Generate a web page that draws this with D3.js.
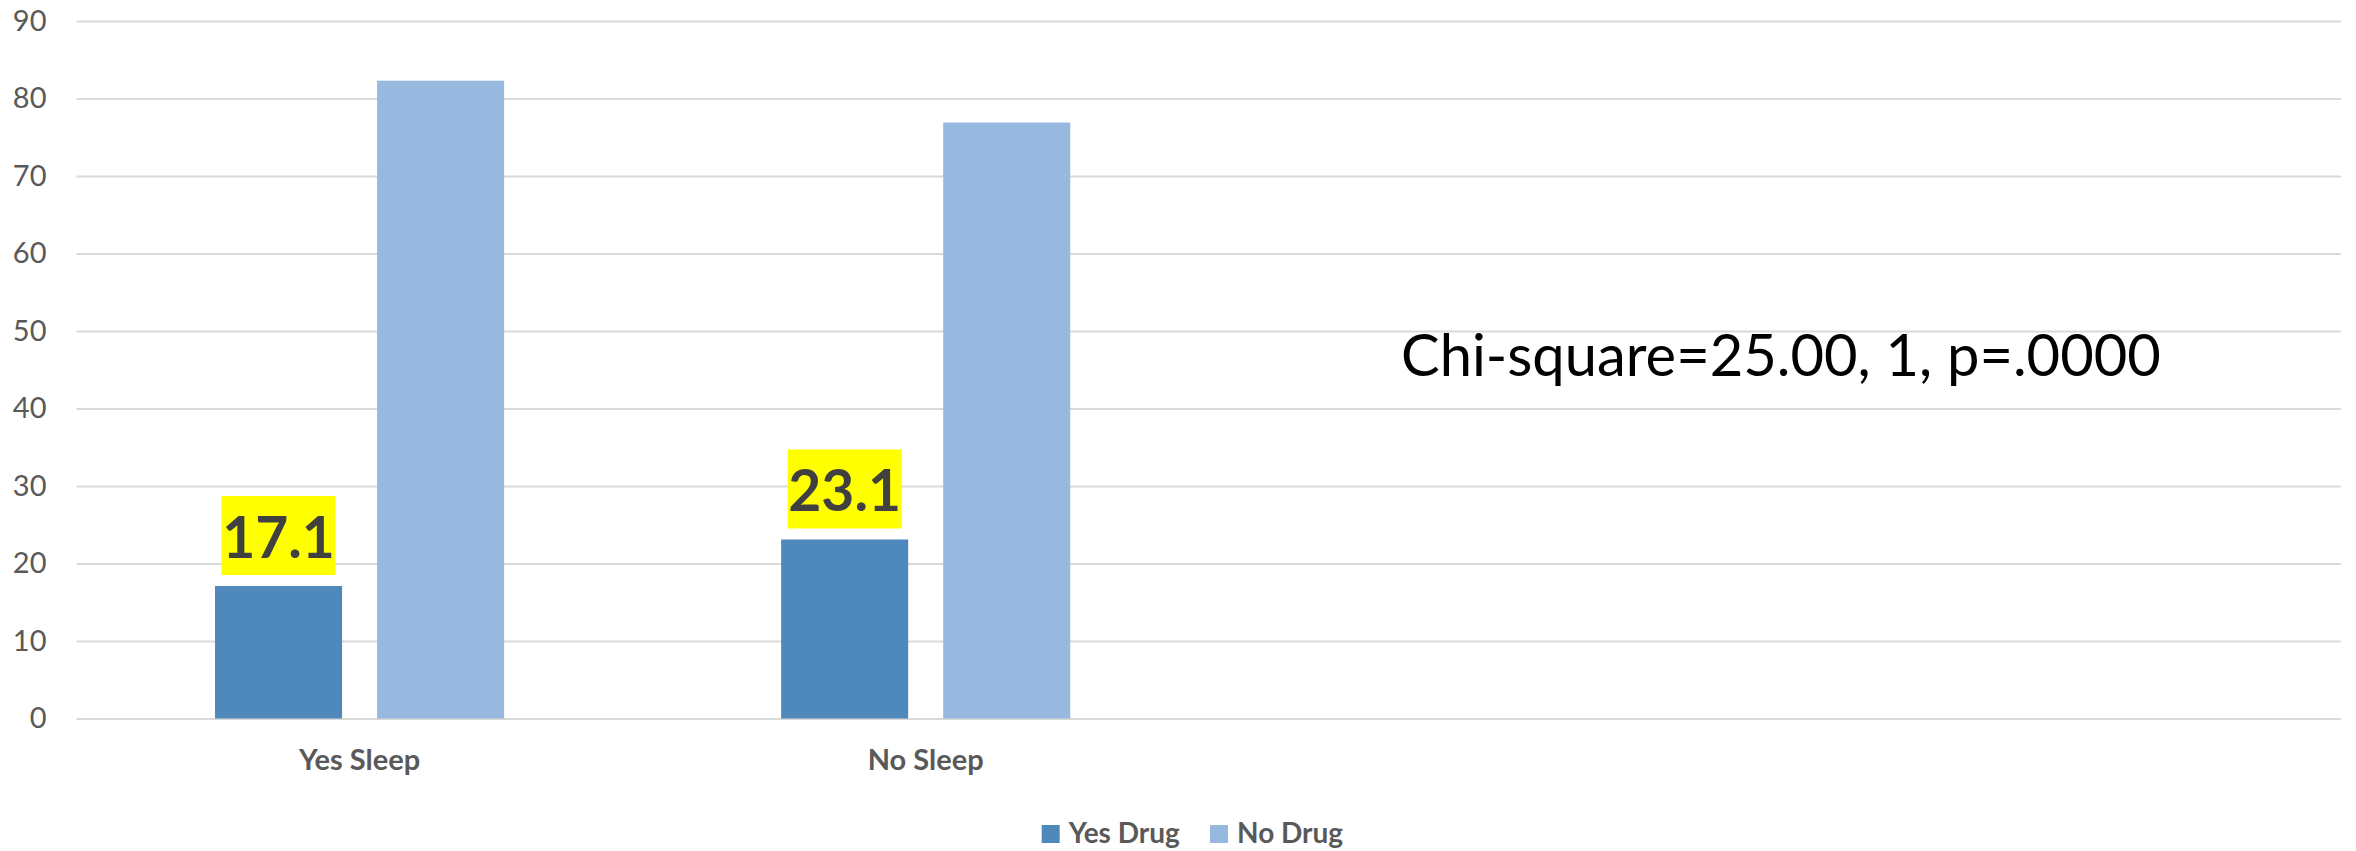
<!DOCTYPE html>
<html>
<head>
<meta charset="utf-8">
<script src="https://cdn.jsdelivr.net/npm/d3@7"></script>
<style>
  body { margin: 0; background: #fff; }
  svg { display: block; font-family: Lato, "Open Sans", sans-serif; }
</style>
</head>
<body>
<svg width="2356" height="851"></svg>
<script>
// chart data
const categories = ["Yes Sleep", "No Sleep", "", ""];
const seriesNames = ["Yes Drug", "No Drug"];
const yesDrug = [17.1, 23.1, null, null];
const noDrug = [82.3, 76.9, null, null];
const yTicks = [0, 10, 20, 30, 40, 50, 60, 70, 80, 90];
const note = "Chi-square=25.00, 1, p=.0000";

const colors = ["#4f89bc", "#98b9df"];
const svg = d3.select("svg");

// plot area
const plotLeft = 76.5, plotRight = 2341, plotTop = 21, plotBottom = 718.5;

const x = d3.scaleBand()
  .domain(d3.range(categories.length))
  .range([plotLeft, plotRight]);

const x1 = d3.scaleBand()
  .domain(seriesNames)
  .range([138.5, x.bandwidth() - 138.5])
  .paddingInner(0.216);

const y = d3.scaleLinear().domain([0, 90]).range([plotBottom, plotTop]);

// gridlines + y labels
const yAxis = svg.append("g")
  .attr("transform", `translate(${plotLeft},0)`)
  .call(d3.axisLeft(y).tickValues(yTicks).tickSize(-(plotRight - plotLeft)).tickPadding(30));
yAxis.select(".domain").remove();
yAxis.selectAll("line").attr("stroke", "#d9d9d9").attr("stroke-width", 2);
yAxis.selectAll("text")
  .attr("fill", "#595959")
  .style("font-size", "29px")
  .style("font-family", "Lato, sans-serif");

// x labels
const xAxis = svg.append("g")
  .attr("transform", `translate(0,${plotBottom})`)
  .call(d3.axisBottom(x).tickFormat(i => categories[i]).tickSize(0).tickPadding(31));
xAxis.select(".domain").remove();
xAxis.selectAll("text")
  .attr("fill", "#595959")
  .style("font-size", "29px")
  .style("font-weight", "bold")
  .style("font-family", "Lato, sans-serif");

// bars
const seriesValues = [yesDrug, noDrug];
seriesNames.forEach((name, s) => {
  const data = seriesValues[s]
    .map((v, i) => ({ i, v }))
    .filter(d => d.v != null);

  svg.append("g")
    .selectAll("rect")
    .data(data)
    .join("rect")
    .attr("x", d => x(d.i) + x1(name))
    .attr("y", d => y(d.v))
    .attr("width", x1.bandwidth())
    .attr("height", d => y(0) - y(d.v))
    .attr("fill", colors[s]);
});

// data labels on the Yes Drug bars, yellow highlight
const labelData = yesDrug.map((v, i) => ({ i, v })).filter(d => d.v != null);
const labels = svg.append("g")
  .selectAll("g")
  .data(labelData)
  .join("g");

labels.each(function (d) {
  const g = d3.select(this);
  const cx = x(d.i) + x1("Yes Drug") + x1.bandwidth() / 2;
  const base = y(d.v) - 28;
  const rect = g.append("rect").attr("fill", "#ffff00");
  const t = g.append("text")
    .attr("x", cx)
    .attr("y", base)
    .attr("text-anchor", "middle")
    .attr("fill", "#404040")
    .style("font-size", "57px")
    .style("font-weight", "bold")
    .text(d.v.toFixed(1));
  const w = t.node().getComputedTextLength();
  rect.attr("x", cx - 57)
    .attr("y", base - 62)
    .attr("width", 114)
    .attr("height", 79);
});

// statistic note
const noteText = svg.append("text")
  .attr("x", 1401)
  .attr("y", 376)
  .attr("fill", "#000")
  .style("font-size", "60px")
  .text(note);
const nw = noteText.node().getComputedTextLength();
noteText.style("font-size", (60 * 760 / nw) + "px");

// legend
const legend = svg.append("g");
const items = legend.selectAll("g")
  .data(seriesNames)
  .join("g");
items.append("rect")
  .attr("width", 18)
  .attr("height", 18)
  .attr("y", 825)
  .attr("fill", (d, i) => colors[i]);
items.append("text")
  .attr("x", 27)
  .attr("y", 843)
  .attr("fill", "#595959")
  .style("font-size", "28px")
  .style("font-weight", "bold")
  .text(d => d);

let pos = 0;
const offsets = [];
items.each(function () {
  offsets.push(pos);
  pos += this.getBBox().width + 30;
});
const totalW = pos - 30;
const startX = 1192.5 - totalW / 2;
items.attr("transform", (d, i) => `translate(${startX + offsets[i]},0)`);
</script>
</body>
</html>
